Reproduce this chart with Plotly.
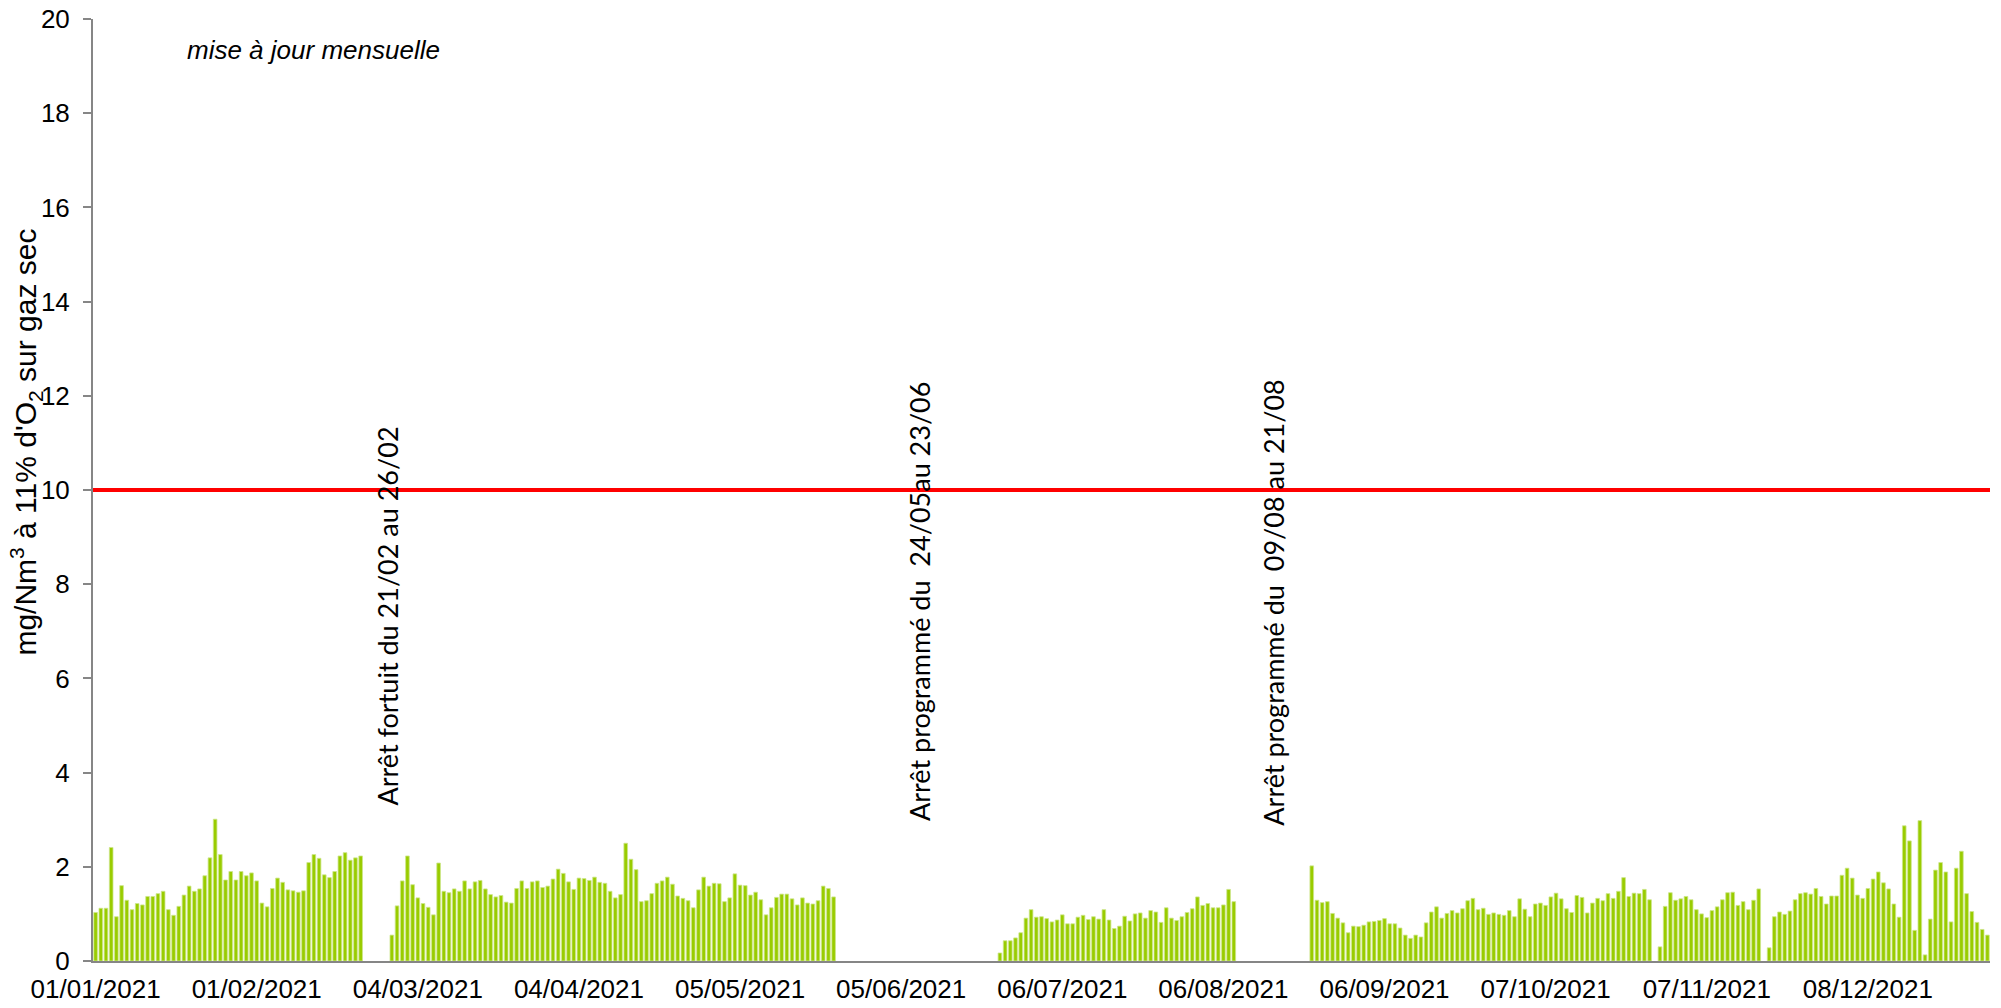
import pandas as pd
import plotly.graph_objects as go

# ---- data (mg/Nm3 at 11% O2, daily) ----
seg1_start = "2021-01-01"
seg1 = [1.03, 1.12, 1.12, 2.41, 0.94, 1.60, 1.29, 1.09, 1.22, 1.19, 1.37, 1.37, 1.43,
        1.48, 1.09, 0.97, 1.16, 1.40, 1.59, 1.48, 1.53, 1.81, 2.19, 3.01, 2.26, 1.72,
        1.90, 1.72, 1.90, 1.81, 1.87, 1.70, 1.23, 1.15, 1.54, 1.76, 1.67, 1.51, 1.49,
        1.46, 1.49, 2.09, 2.26, 2.18, 1.83, 1.77, 1.90, 2.23, 2.30, 2.14, 2.19, 2.23]

seg2_start = "2021-02-27"
seg2 = [0.55, 1.17, 1.70, 2.23, 1.62, 1.34, 1.22, 1.14, 0.98, 2.08, 1.48, 1.45, 1.53,
        1.48, 1.70, 1.53, 1.68, 1.71, 1.53, 1.41, 1.36, 1.39, 1.25, 1.23, 1.54, 1.70,
        1.54, 1.68, 1.70, 1.56, 1.59, 1.74, 1.95, 1.86, 1.68, 1.52, 1.76, 1.75, 1.71,
        1.78, 1.67, 1.65, 1.48, 1.34, 1.41, 2.50, 2.16, 1.94, 1.26, 1.28, 1.43, 1.65,
        1.70, 1.78, 1.63, 1.38, 1.33, 1.28, 1.13, 1.51, 1.78, 1.59, 1.65, 1.64, 1.26,
        1.34, 1.85, 1.61, 1.60, 1.40, 1.46, 1.30, 0.98, 1.13, 1.35, 1.42, 1.42, 1.32,
        1.19, 1.34, 1.23, 1.21, 1.28, 1.59, 1.54, 1.36]

seg3_start = "2021-06-24"
seg3 = [0.17, 0.43, 0.43, 0.49, 0.60, 0.91, 1.09, 0.93, 0.94, 0.90, 0.83, 0.87, 0.98,
        0.79, 0.79, 0.93, 0.97, 0.88, 0.94, 0.89, 1.09, 0.87, 0.69, 0.74, 0.95, 0.85,
        1.00, 1.02, 0.91, 1.07, 1.04, 0.82, 1.13, 0.91, 0.86, 0.94, 1.03, 1.11, 1.36,
        1.18, 1.22, 1.13, 1.13, 1.19, 1.52, 1.26]

seg4_start = "2021-08-23"
seg4 = [2.02, 1.29, 1.24, 1.26, 1.01, 0.91, 0.81, 0.60, 0.74, 0.73, 0.76, 0.83, 0.84,
        0.86, 0.90, 0.79, 0.79, 0.70, 0.55, 0.48, 0.55, 0.51, 0.81, 1.04, 1.15, 0.91,
        1.01, 1.07, 1.02, 1.11, 1.28, 1.33, 1.09, 1.12, 0.99, 1.02, 0.99, 0.97, 1.07,
        0.94, 1.32, 1.10, 0.94, 1.21, 1.23, 1.18, 1.36, 1.44, 1.32, 1.11, 1.03, 1.39,
        1.35, 1.02, 1.23, 1.33, 1.28, 1.43, 1.33, 1.48, 1.77, 1.37, 1.44, 1.43, 1.52,
        1.30]

seg5_start = "2021-10-29"
seg5 = [0.30, 1.16, 1.45, 1.29, 1.32, 1.37, 1.30, 1.09, 1.00, 0.92, 1.07, 1.15, 1.30,
        1.45, 1.46, 1.18, 1.26, 1.09, 1.29, 1.53]

seg6_start = "2021-11-19"
seg6 = [0.28, 0.94, 1.04, 0.99, 1.06, 1.30, 1.43, 1.45, 1.42, 1.54, 1.37, 1.21, 1.38,
        1.38, 1.82, 1.97, 1.76, 1.40, 1.33, 1.54, 1.74, 1.89, 1.66, 1.53, 1.21, 0.93,
        2.87, 2.55, 0.65, 2.98, 0.13, 0.89, 1.93, 2.09, 1.89, 0.83, 1.97, 2.33, 1.43,
        1.05, 0.82, 0.67, 0.55]

limit_value = 10

tick_labels = ["01/01/2021", "01/02/2021", "04/03/2021", "04/04/2021", "05/05/2021",
               "05/06/2021", "06/07/2021", "06/08/2021", "06/09/2021", "07/10/2021",
               "07/11/2021", "08/12/2021"]
y_ticks = [0, 2, 4, 6, 8, 10, 12, 14, 16, 18, 20]

notes = ["Arrêt fortuit du 21/02 au 26/02",
         "Arrêt programmé du  24/05au 23/06",
         "Arrêt programmé du  09/08 au 21/08"]
update_note = "mise à jour mensuelle"
y_title = "mg/Nm<sup>3</sup> à 11% d'O<sub>2</sub> sur gaz sec"

# ---- build series ----
segments = [(seg1_start, seg1), (seg2_start, seg2), (seg3_start, seg3),
            (seg4_start, seg4), (seg5_start, seg5), (seg6_start, seg6)]
xs, ys = [], []
for start, vals in segments:
    d = pd.date_range(start, periods=len(vals), freq="D")
    xs.extend(d)
    ys.extend(vals)

tickvals = [pd.to_datetime(t, format="%d/%m/%Y") for t in tick_labels]

FONT = "Liberation Sans, Arial, sans-serif"
GRAY = "#868686"

fig = go.Figure()
fig.add_trace(go.Bar(
    x=xs, y=ys,
    marker=dict(color="#99CC00", line=dict(color="#CDE68A", width=0.8)),
    hoverinfo="x+y",
))

fig.add_shape(type="line", xref="paper", yref="y", x0=0, x1=1,
              y0=limit_value, y1=limit_value,
              line=dict(color="#FF0000", width=4))

fig.update_layout(
    width=2001, height=1008,
    margin=dict(l=93, r=11, t=19, b=47),
    paper_bgcolor="white", plot_bgcolor="white",
    bargap=0.3,
    showlegend=False,
    font=dict(family=FONT, size=26, color="black"),
    xaxis=dict(
        type="date", automargin=False,
        range=[pd.Timestamp("2020-12-31 12:00"), pd.Timestamp("2021-12-31 12:00")],
        tickvals=tickvals, ticktext=tick_labels,
        showgrid=False, zeroline=False,
        showline=True, linecolor=GRAY, linewidth=2,
        ticks="outside", ticklen=4, tickcolor="rgba(0,0,0,0)",
        tickfont=dict(family=FONT, size=26, color="black"),
    ),
    yaxis=dict(
        range=[0, 20], tickvals=y_ticks, automargin=False,
        showgrid=False, zeroline=False,
        showline=True, linecolor=GRAY, linewidth=2,
        ticks="outside", ticklen=8, tickcolor=GRAY, tickwidth=2,
        tickfont=dict(family=FONT, size=26, color="black"),
        ticklabelstandoff=8,
    ),
)

annotations = [
    dict(text=y_title, xref="paper", yref="paper", x=-0.0355, y=0.551,
         xanchor="center", yanchor="middle", textangle=-90, showarrow=False,
         font=dict(family=FONT, size=30, color="black")),
    dict(text="<i>" + update_note + "</i>", xref="paper", yref="paper", x=0.0483, y=0.967,
         xanchor="left", yanchor="middle", showarrow=False,
         font=dict(family=FONT, size=26, color="black")),
]
note_pos = [(0.1554, 0.3665), (0.4353, 0.3819), (0.6225, 0.3803)]
for txt, (px, py) in zip(notes, note_pos):
    annotations.append(dict(text=txt, xref="paper", yref="paper", x=px, y=py,
                            xanchor="center", yanchor="middle", textangle=-90,
                            showarrow=False,
                            font=dict(family="Lato, Carlito, sans-serif", size=27, color="black")))
fig.update_layout(annotations=annotations)

fig.write_html("out.html", config={"displayModeBar": False},
               post_script="document.body.style.margin='0';")
